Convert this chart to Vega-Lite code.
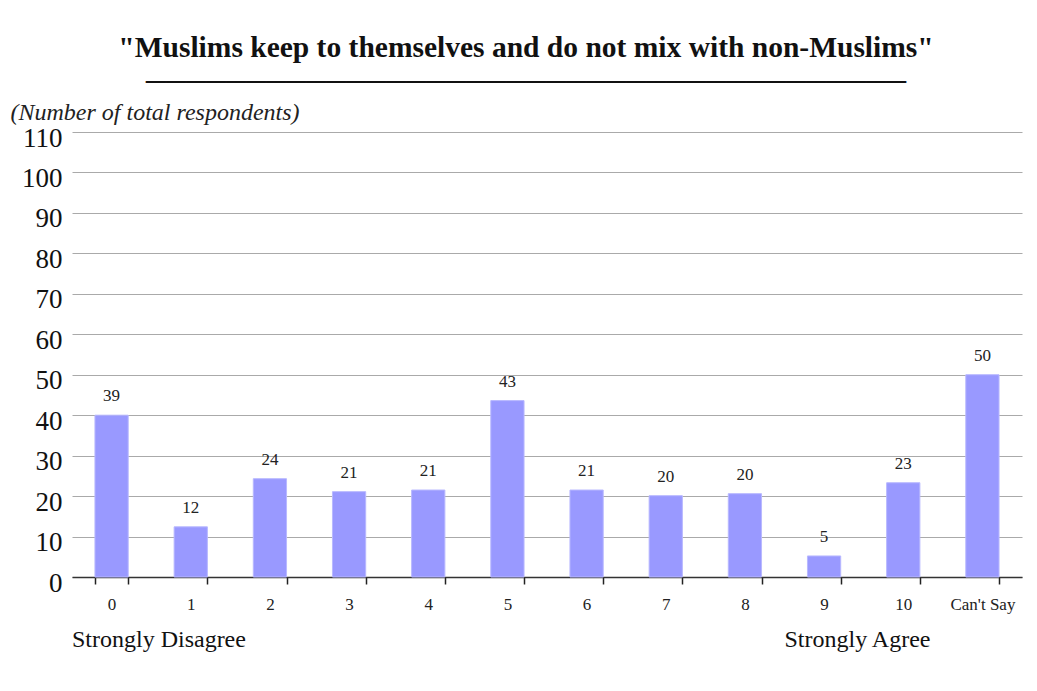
{
  "$schema": "https://vega.github.io/schema/vega-lite/v6.json",
  "autosize": {"type": "none"},
  "width": 950,
  "height": 445,
  "padding": {"left": 72, "top": 132, "right": 15, "bottom": 114},
  "background": "white",
  "config": {
    "view": {"stroke": null},
    "font": "Liberation Serif"
  },
  "title": {
    "text": "\"Muslims keep to themselves and do not mix with non-Muslims\"",
    "subtitle": "______________________________________",
    "font": "Liberation Serif",
    "fontSize": 29.5,
    "fontWeight": "bold",
    "color": "#111111",
    "subtitleFont": "Liberation Serif",
    "subtitleFontSize": 40,
    "subtitleColor": "#111111",
    "subtitlePadding": -17,
    "anchor": "middle",
    "frame": "group",
    "dx": -21,
    "offset": 13
  },
  "datasets": {
    "bars": [
      {"score": "0", "bar": 40.0, "n": 39},
      {"score": "1", "bar": 12.4, "n": 12},
      {"score": "2", "bar": 24.3, "n": 24},
      {"score": "3", "bar": 21.1, "n": 21},
      {"score": "4", "bar": 21.5, "n": 21},
      {"score": "5", "bar": 43.6, "n": 43},
      {"score": "6", "bar": 21.5, "n": 21},
      {"score": "7", "bar": 20.1, "n": 20},
      {"score": "8", "bar": 20.6, "n": 20},
      {"score": "9", "bar": 5.2, "n": 5},
      {"score": "10", "bar": 23.3, "n": 23},
      {"score": "Can't Say", "bar": 50.0, "n": 50}
    ],
    "notes": [
      {"score": "0", "note": "Strongly Disagree"},
      {"score": "9", "note": "Strongly Agree"}
    ]
  },
  "layer": [
    {
      "data": {"name": "bars"},
      "mark": {"type": "bar", "color": "#9999ff", "stroke": "#b8b8ff", "strokeWidth": 1},
      "encoding": {
        "x": {
          "field": "score", "type": "nominal", "sort": null,
          "scale": {"paddingInner": 0.58, "paddingOuter": 0.29},
          "axis": {
            "title": null, "labelAngle": 0, "labelFont": "Liberation Serif", "labelFontSize": 17,
            "labelColor": "#222222", "labelPadding": 12, "ticks": true, "tickBand": "extent", "tickSize": 7,
            "tickColor": "#222222", "tickWidth": 1.5, "domainColor": "#333333", "domainWidth": 1.5
          }
        },
        "y": {
          "field": "bar", "type": "quantitative",
          "scale": {"domain": [0, 110], "nice": false},
          "axis": {
            "values": [0, 10, 20, 30, 40, 50, 60, 70, 80, 90, 100, 110],
            "title": "(Number of total respondents)",
            "titleFont": "Liberation Serif", "titleFontStyle": "italic", "titleFontWeight": "normal",
            "titleFontSize": 24, "titleColor": "#222222", "titleAngle": 0, "titleAlign": "left",
            "titleBaseline": "alphabetic", "titleX": -62, "titleY": -13,
            "labelFont": "Liberation Serif", "labelFontSize": 27, "labelColor": "#111111",
            "labelPadding": 10, "labelOffset": 6, "labelBaseline": "middle", "ticks": false, "domain": false,
            "grid": true, "gridColor": "#aaaaaa", "gridWidth": 1
          }
        }
      }
    },
    {
      "data": {"name": "bars"},
      "mark": {"type": "text", "font": "Liberation Serif", "fontSize": 17, "color": "#222222", "baseline": "alphabetic", "dy": -14},
      "encoding": {
        "x": {"field": "score", "type": "nominal", "sort": null},
        "y": {"field": "bar", "type": "quantitative"},
        "text": {"field": "n", "type": "quantitative"}
      }
    },
    {
      "data": {"name": "notes"},
      "mark": {"type": "text", "font": "Liberation Serif", "fontSize": 24, "color": "#111111", "align": "left", "baseline": "middle", "dx": -23, "clip": false},
      "encoding": {
        "x": {"field": "score", "type": "nominal", "sort": null, "bandPosition": 0},
        "y": {"datum": -15.6, "type": "quantitative"},
        "text": {"field": "note", "type": "nominal"}
      }
    }
  ]
}
